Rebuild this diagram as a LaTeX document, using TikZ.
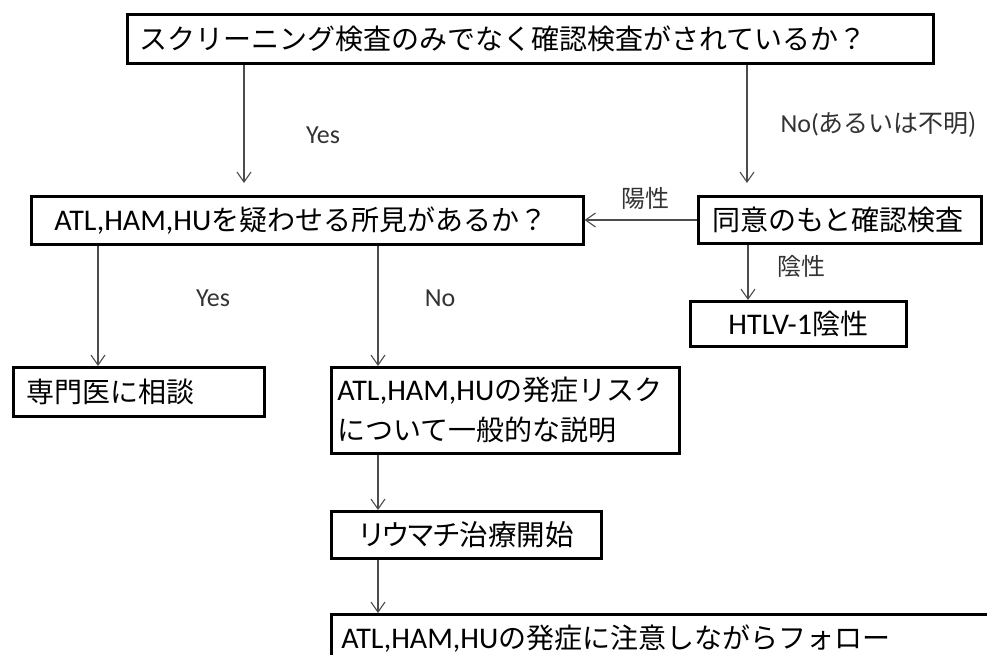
\documentclass[tikz,border=0pt]{standalone}
\usepackage{fontspec}
\setmainfont{Carlito}
\newfontfamily\jp{Noto Sans CJK JP}
\newfontfamily\jpp[RawFeature=+palt]{Noto Sans CJK JP}
\usetikzlibrary{arrows.meta}
\newcommand\latx[1]{{\fontsize{30}{40}\selectfont #1}}
\tikzset{
  box/.style={draw=black, line width=2.6pt, anchor=north west, align=left,
    font=\fontsize{28}{40}\selectfont, inner ysep=0pt},
  conn/.style={draw=black!70, line width=1.1pt,
    -{Straight Barb[length=10pt,width=14pt]}},
  lab/.style={font=\fontsize{26}{30}\selectfont, text=black!80, inner sep=0pt},
  jlab/.style={font=\fontsize{24}{30}\selectfont\jp, text=black!80, inner sep=0pt}
}
\begin{document}
\begin{tikzpicture}[x=1pt,y=1pt]
\useasboundingbox (0,0) rectangle (987,-654);
\fill[white] (0,0) rectangle (987,-654);
\clip (0,0) rectangle (987,-654);

\node[box, minimum width=806pt, minimum height=49pt, inner xsep=12pt, text width=782pt]
  (q1) at (126,-13) {\jp スクリーニング検査のみでなく確認検査がされているか？};
\node[box, minimum width=552pt, minimum height=48pt, inner xsep=23pt, text width=506pt]
  (q2) at (30,-195) {\latx{ATL,HAM,HU}{\jp を疑わせる所見があるか？}};
\node[box, minimum width=283pt, minimum height=47pt, inner xsep=14pt, text width=255pt]
  (conf) at (697,-195) {\jp 同意のもと確認検査};
\node[box, minimum width=216pt, minimum height=45pt, inner xsep=13pt, text width=190pt, align=center]
  (neg) at (689,-300) {\latx{HTLV-1}{\jp 陰性}};
\node[box, minimum width=251pt, minimum height=49pt, inner xsep=13pt, text width=225pt]
  (spec) at (12,-366) {\jp 専門医に相談};
\node[box, minimum width=348pt, minimum height=86pt, inner xsep=6pt, text width=336pt]
  (expl) at (330,-366) {\latx{ATL,HAM,HU}{\jp の発症リスク}\\{\jp について一般的な説明}};
\node[box, minimum width=270pt, minimum height=47pt, inner xsep=18pt, text width=234pt]
  (start) at (330,-510) {\hspace*{10pt}{\fontsize{28.5}{40}\selectfont\jpp リウマチ治療開始}};
\node[box, minimum width=680pt, minimum height=48pt, inner xsep=10pt, text width=660pt]
  (follow) at (330,-613) {\latx{ATL,HAM,HU}{\jp の発症に注意しながらフォロー}};

\coordinate (xa) at (244,0);
\coordinate (xb) at (747,0);
\coordinate (xc) at (98,0);
\coordinate (xd) at (378,0);
\coordinate (xe) at (748,0);
\coordinate (yh) at (0,-220);

\draw[conn, shorten >=12pt] (q1.south -| xa) -- (q2.north -| xa);
\draw[conn, shorten >=12pt] (q1.south -| xb) -- (conf.north -| xb);
\draw[conn] (conf.west |- yh) -- (q2.east |- yh);
\draw[conn] (conf.south -| xe) -- (neg.north -| xe);
\draw[conn] (q2.south -| xc) -- (spec.north -| xc);
\draw[conn] (q2.south -| xd) -- (expl.north -| xd);
\draw[conn] (expl.south -| xd) -- (start.north -| xd);
\draw[conn] (start.south -| xd) -- (follow.north -| xd);

\node[lab] (yes1) at (323,-135) {Yes};
\node[lab] (no1) at (879,-125) {No({\fontsize{25}{30}\selectfont\jp あるいは不明)}};
\node[jlab] (pos) at (645,-198) {陽性};
\node[jlab] (negl) at (801,-266) {陰性};
\node[lab] (yes2) at (213,-298) {Yes};
\node[lab] (no2) at (440,-298) {No};
\end{tikzpicture}
\end{document}
